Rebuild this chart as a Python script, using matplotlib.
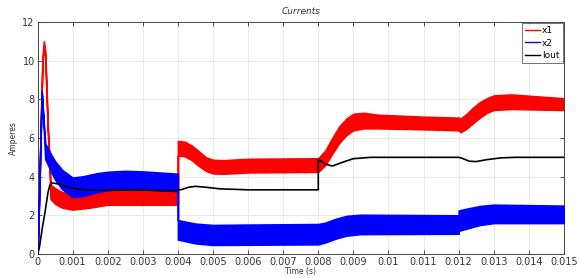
import matplotlib
matplotlib.use("Agg")
import matplotlib.pyplot as plt
from matplotlib.lines import Line2D

# ---- data ----
t_x1 = [0, 0.00005, 0.0001, 0.00014, 0.00018, 0.00022, 0.00026, 0.0003, 0.00034, 0.00037,
        0.0005, 0.0007, 0.001, 0.0015, 0.002, 0.003, 0.004,
        0.004, 0.0042, 0.0044, 0.0046, 0.0048, 0.005, 0.0053, 0.006, 0.008,
        0.0082, 0.0084, 0.0086, 0.0088, 0.009, 0.0093, 0.0097, 0.011, 0.012,
        0.01205, 0.0122, 0.0124, 0.0126, 0.0128, 0.013, 0.0135, 0.015]
x1_lo = [0, 3.0, 7.0, 9.8, 10.75, 10.2, 8.0, 6.0, 4.6, 2.85,
         2.6, 2.4, 2.3, 2.4, 2.55, 2.55, 2.55,
         5.1, 5.05, 4.85, 4.55, 4.3, 4.17, 4.15, 4.22, 4.25,
         4.6, 5.2, 5.75, 6.15, 6.4, 6.5, 6.5, 6.45, 6.4,
         6.3, 6.45, 6.75, 7.05, 7.3, 7.45, 7.5, 7.45]
x1_hi = [0, 3.3, 7.3, 10.1, 11.0, 10.5, 8.3, 6.3, 5.0, 3.6,
         3.4, 3.2, 3.1, 3.2, 3.3, 3.3, 3.3,
         5.85, 5.8, 5.6, 5.3, 5.0, 4.87, 4.85, 4.92, 4.95,
         5.35, 6.0, 6.6, 7.0, 7.25, 7.3, 7.2, 7.1, 7.05,
         7.0, 7.2, 7.55, 7.85, 8.05, 8.2, 8.25, 8.05]

t_x2 = [0, 0.00006, 0.00012, 0.00017, 0.00022, 0.0003, 0.0004, 0.0005, 0.0007, 0.001,
        0.0013, 0.0017, 0.002, 0.0025, 0.003, 0.004,
        0.004, 0.0045, 0.005, 0.006, 0.008, 0.0082, 0.0085, 0.0088, 0.0092, 0.012,
        0.012, 0.0123, 0.0126, 0.013, 0.015]
x2_lo = [0, 4.0, 8.3, 6.8, 4.9, 4.6, 4.2, 3.85, 3.35, 2.95,
         3.0, 3.2, 3.3, 3.37, 3.35, 3.25,
         0.75, 0.55, 0.47, 0.48, 0.5, 0.6, 0.8, 0.95, 1.03, 1.05,
         1.2, 1.35, 1.5, 1.6, 1.6]
x2_hi = [0, 4.2, 8.45, 7.0, 5.7, 5.45, 5.1, 4.8, 4.35, 3.95,
         4.02, 4.18, 4.25, 4.3, 4.27, 4.15,
         1.75, 1.57, 1.5, 1.52, 1.55, 1.62, 1.82, 1.97, 2.03, 2.0,
         2.25, 2.37, 2.48, 2.55, 2.5]

t_iout = [0, 0.00005, 0.0001, 0.00015, 0.0002, 0.00025, 0.0003, 0.00035, 0.0004, 0.0006,
          0.0008, 0.001, 0.0015, 0.003, 0.0039, 0.0041, 0.0043, 0.0045, 0.0048, 0.0052,
          0.006, 0.008, 0.008, 0.0082, 0.0084, 0.0087, 0.009, 0.0095, 0.012, 0.0121,
          0.0123, 0.0125, 0.0128, 0.0132, 0.0136, 0.015]
iout = [0, 0.3, 0.9, 1.5, 2.0, 2.6, 3.2, 3.55, 3.68, 3.62,
        3.5, 3.4, 3.3, 3.3, 3.27, 3.33, 3.45, 3.5, 3.45, 3.37,
        3.32, 3.32, 4.9, 4.65, 4.55, 4.75, 4.93, 5.0, 5.0, 4.95,
        4.8, 4.78, 4.88, 4.97, 5.0, 5.0]

x_ticks = [0, 0.001, 0.002, 0.003, 0.004, 0.005, 0.006, 0.007, 0.008,
           0.009, 0.01, 0.011, 0.012, 0.013, 0.014, 0.015]
x_tick_labels = ["0", "0.001", "0.002", "0.003", "0.004", "0.005", "0.006", "0.007",
                 "0.008", "0.009", "0.01", "0.011", "0.012", "0.013", "0.014", "0.015"]
y_ticks = [0, 2, 4, 6, 8, 10, 12]
series_names = ["x1", "x2", "Iout"]

# ---- figure ----
fig = plt.figure(figsize=(5.79, 2.78), dpi=100)
ax = fig.add_axes([0.0648, 0.0863, 0.9092, 0.8347])

red = "#ff0000"
blue = "#0000ff"
black = "#000000"

ax.fill_between(t_x1, x1_lo, x1_hi, color=red, linewidth=1.2, edgecolor=red, zorder=2)
ax.fill_between(t_x2, x2_lo, x2_hi, color=blue, linewidth=1.2, edgecolor=blue, zorder=3)
ax.plot(t_iout, iout, color=black, linewidth=1.2, zorder=4)

ax.set_xlim(0, 0.015)
ax.set_ylim(0, 12)
ax.set_xticks(x_ticks)
ax.set_xticklabels(x_tick_labels)
ax.set_yticks(y_ticks)
ax.tick_params(direction="in", length=3, width=0.6, labelsize=7, top=True, right=True,
               pad=2, colors="#333333")
ax.grid(True, color="#e6e6e6", linewidth=0.6, zorder=0)
ax.set_axisbelow(True)
for s in ax.spines.values():
    s.set_linewidth(0.7)
    s.set_color("#444444")

ax.set_title("Currents", fontsize=6.5, style="italic", pad=6, color="#333333")
ax.set_xlabel("Time (s)", fontsize=5.5, labelpad=0, color="#333333")
ax.set_ylabel("Amperes", fontsize=5.5, labelpad=3, color="#333333")

handles = [Line2D([], [], color=red, linewidth=1.0),
           Line2D([], [], color=blue, linewidth=1.0),
           Line2D([], [], color=black, linewidth=1.0)]
leg = ax.legend(handles, series_names, loc="upper right", fontsize=6.5,
                frameon=True, fancybox=False, borderaxespad=0.15,
                handlelength=1.7, handletextpad=0.2, labelspacing=0.35,
                borderpad=0.35)
leg.get_frame().set_edgecolor("#333333")
leg.get_frame().set_linewidth(0.6)

fig.savefig("out.png", dpi=100)
